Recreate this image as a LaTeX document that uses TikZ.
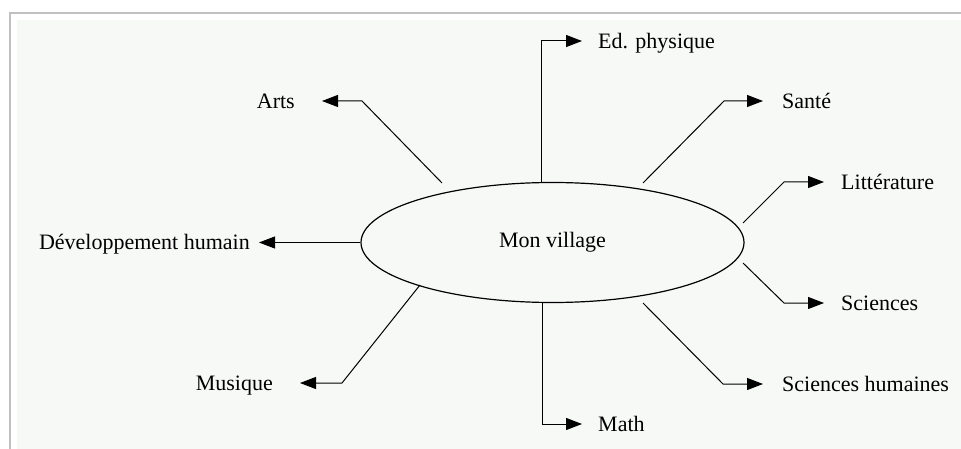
\documentclass[tikz,border=0pt]{standalone}
\usepackage{fontspec}
\setmainfont{Liberation Serif}
\usetikzlibrary{shapes.geometric,arrows.meta,positioning}
\definecolor{framegray}{RGB}{192,192,192}
\definecolor{paper}{RGB}{247,249,247}
\tikzstyle{hub} = [ellipse, draw, line width=1.2pt, minimum width=383pt,
    minimum height=120pt, inner sep=0pt, font=\fontsize{22}{26}\selectfont]
\tikzstyle{subject} = [inner sep=0pt, text height=15pt, text depth=0pt,
    font=\fontsize{22}{26}\selectfont]
\tikzstyle{link} = [draw, line width=1pt, -{Triangle[length=16pt,width=12pt]}]

\begin{document}
\begin{tikzpicture}[x=1pt, y=-1pt, node distance=16pt]
  % Frame
  \useasboundingbox (0,0) rectangle (961,449);
  \fill [paper] (17,20) rectangle (961,449);
  \draw [framegray, line width=2pt] (10,449) -- (10,13) -- (961,13);

  % Place nodes
  \node [hub] (village) at (552.5,242.5) {Mon village};

  % Right side
  \coordinate (edp1) at (541.7,41);
  \coordinate (edp2) at (582,41);
  \node [subject, right=of edp2] (edp) {Ed. physique};
  \coordinate (sante0) at (643,183);
  \coordinate (sante1) at (724,101);
  \coordinate (sante2) at (763,101);
  \node [subject, right=19pt of sante2] (sante) {Santé};
  \coordinate (litt0) at (743,223);
  \coordinate (litt1) at (784,182);
  \coordinate (litt2) at (824,182);
  \node [subject, right=17pt of litt2] (litt) {Littérature};
  \coordinate (sci0) at (743,263);
  \coordinate (sci1) at (784,303);
  \coordinate (sci2) at (824,303);
  \node [subject, right=17pt of sci2] (sci) {Sciences};
  \coordinate (scih0) at (643,303);
  \coordinate (scih1) at (723,384);
  \coordinate (scih2) at (763,384);
  \node [subject, right=19pt of scih2] (scih) {Sciences humaines};
  \coordinate (math1) at (542,424);
  \coordinate (math2) at (582,424);
  \node [subject, right=of math2] (math) {Math};

  % Left side
  \coordinate (mus0) at (420,285);
  \coordinate (mus1) at (342,383);
  \coordinate (mus2) at (300,383);
  \node [subject, left=27pt of mus2] (mus) {Musique};
  \coordinate (dev2) at (259,242.5);
  \node [subject, left=9pt of dev2] (dev) {Développement humain};
  \coordinate (arts0) at (442,183);
  \coordinate (arts1) at (362,101);
  \coordinate (arts2) at (322,101);
  \node [subject, left=27pt of arts2] (arts) {Arts};

  % Draw edges
  \path [link] (edp1 |- village.north) -- (edp1) -- (edp2);
  \path [link] (sante0) -- (sante1) -- (sante2);
  \path [link] (litt0) -- (litt1) -- (litt2);
  \path [link] (sci0) -- (sci1) -- (sci2);
  \path [link] (scih0) -- (scih1) -- (scih2);
  \path [link] (math1 |- village.south) -- (math1) -- (math2);
  \path [link] (mus0) -- (mus1) -- (mus2);
  \path [link] (village.west) -- (dev2);
  \path [link] (arts0) -- (arts1) -- (arts2);
\end{tikzpicture}
\end{document}
